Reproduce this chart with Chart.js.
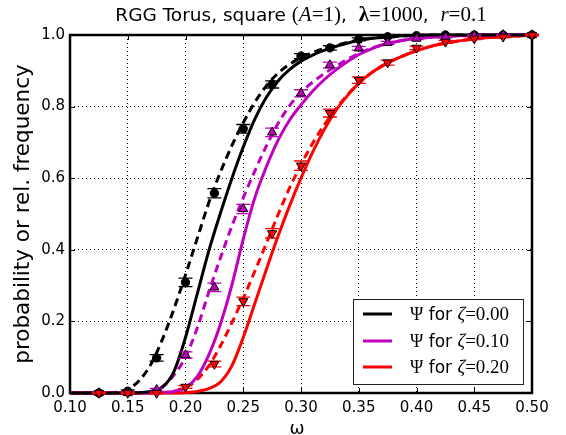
<!DOCTYPE html>
<html><head><meta charset="utf-8">
<script src="https://cdn.jsdelivr.net/npm/chart.js@4"></script>
<style>html,body{margin:0;padding:0;background:#fff;}#wrap{width:566px;height:435px;}</style>
</head><body><div id="wrap"><canvas id="c" width="566" height="435"></canvas></div>
<script>
// ---- data ----
const omega = [0.10,0.11,0.12,0.13,0.14,0.15,0.16,0.17,0.18,0.19,0.20,0.21,0.22,0.23,0.24,0.25,0.26,0.27,0.28,0.29,0.30,0.31,0.32,0.33,0.34,0.35,0.36,0.37,0.38,0.39,0.40,0.41,0.42,0.43,0.44,0.45,0.46,0.47,0.48,0.49,0.50];
const psiZeta000  = [0,0,0,0,0,0,0.001,0.004,0.016,0.06,0.155,0.275,0.395,0.50,0.598,0.687,0.765,0.826,0.871,0.903,0.927,0.944,0.957,0.968,0.977,0.985,0.99,0.993,0.996,0.998,0.999,1,1,1,1,1,1,1,1,1,1];
const dashZeta000 = [0,0,0,0,0.002,0.01,0.035,0.08,0.15,0.235,0.33,0.43,0.53,0.615,0.69,0.755,0.812,0.858,0.893,0.918,0.937,0.951,0.962,0.971,0.979,0.986,0.99,0.994,0.996,0.998,0.999,1,1,1,1,1,1,1,1,1,1];
const psiZeta010  = [0,0,0,0,0,0,0,0,0.001,0.004,0.015,0.045,0.105,0.19,0.30,0.43,0.545,0.632,0.705,0.762,0.805,0.843,0.875,0.902,0.925,0.945,0.96,0.972,0.98,0.986,0.99,0.993,0.995,0.997,0.998,0.999,1,1,1,1,1];
const dashZeta010 = [0,0,0,0,0,0,0.001,0.005,0.018,0.05,0.10,0.18,0.28,0.375,0.465,0.545,0.62,0.69,0.752,0.802,0.84,0.868,0.892,0.912,0.932,0.948,0.962,0.972,0.98,0.986,0.99,0.993,0.995,0.997,0.998,0.999,1,1,1,1,1];
const psiZeta020  = [0,0,0,0,0,0,0,0,0,0,0.001,0.004,0.012,0.03,0.075,0.155,0.25,0.345,0.437,0.522,0.60,0.672,0.735,0.788,0.83,0.865,0.892,0.913,0.93,0.944,0.956,0.966,0.974,0.98,0.985,0.989,0.992,0.994,0.996,0.998,0.999];
const dashZeta020 = [0,0,0,0,0,0,0,0,0.001,0.005,0.016,0.037,0.075,0.13,0.195,0.265,0.34,0.418,0.497,0.572,0.638,0.697,0.748,0.793,0.832,0.865,0.892,0.913,0.93,0.944,0.956,0.966,0.974,0.98,0.985,0.989,0.992,0.994,0.996,0.998,0.999];

const omegaSim = [0.125,0.15,0.175,0.20,0.225,0.25,0.275,0.30,0.325,0.35,0.375,0.40,0.425,0.45,0.475,0.50];
const freqZeta000 = [0,0.005,0.098,0.309,0.558,0.738,0.862,0.941,0.964,0.988,0.995,0.998,1,1,1,1];
const errZeta000  = [0.002,0.004,0.009,0.012,0.013,0.012,0.010,0.007,0.006,0.004,0.003,0.002,0.002,0.002,0.002,0.002];
const freqZeta010 = [0,0,0.009,0.106,0.295,0.514,0.728,0.837,0.916,0.963,0.978,0.99,0.994,0.998,1,1];
const errZeta010  = [0.002,0.002,0.004,0.009,0.012,0.013,0.012,0.010,0.008,0.005,0.004,0.003,0.002,0.002,0.002,0.002];
const freqZeta020 = [0,0,0,0.017,0.081,0.256,0.446,0.635,0.782,0.874,0.923,0.964,0.981,0.99,0.995,1];
const errZeta020  = [0.002,0.002,0.002,0.004,0.008,0.012,0.013,0.013,0.011,0.009,0.007,0.005,0.004,0.003,0.002,0.002];

const xTicks = [0.10,0.15,0.20,0.25,0.30,0.35,0.40,0.45,0.50];
const yTicks = [0.0,0.2,0.4,0.6,0.8,1.0];
const legendLabels = ['0.00','0.10','0.20'];

const BLACK = '#000000', MAGENTA = '#bf00bf', RED = '#ff0000';
const SANS = '"DejaVu Sans", sans-serif';
const SERIF = '"Liberation Serif", "DejaVu Serif", serif';

function pts(xs, ys){ return xs.map((x,i)=>({x:x, y:ys[i]})); }

function curve(ys, color, dashed, order){
  return {type:'line', data: pts(omega, ys), borderColor: color, borderWidth: 3,
    borderDash: dashed ? [8,5] : [], pointRadius: 0, cubicInterpolationMode: 'monotone',
    fill: false, order: order, clip: 4};
}
function markers(ys, errs, color, style, rot, order){
  return {type:'line', data: pts(omegaSim, ys), errors: errs, errColor: color, showLine: false,
    pointStyle: style, pointRotation: rot, pointRadius: style==='circle'?4.2:5.3,
    pointBackgroundColor: color, pointBorderColor: '#000', pointBorderWidth: 1,
    order: order, clip: false};
}

const errorBars = {
  id: 'errorBars',
  beforeDatasetDraw(chart, args){
    const ds = chart.data.datasets[args.index];
    if (!ds.errors) return;
    const xs = chart.scales.x, ys = chart.scales.y, ctx = chart.ctx;
    ctx.save();
    ctx.strokeStyle = ds.errColor; ctx.lineWidth = 1.3;
    ds.data.forEach((p,i)=>{
      const e = ds.errors[i];
      const px = xs.getPixelForValue(p.x);
      const y1 = ys.getPixelForValue(p.y - e), y2 = ys.getPixelForValue(p.y + e);
      ctx.beginPath();
      ctx.moveTo(px, y1); ctx.lineTo(px, y2);
      ctx.moveTo(px-7, y1); ctx.lineTo(px+7, y1);
      ctx.moveTo(px-7, y2); ctx.lineTo(px+7, y2);
      ctx.stroke();
    });
    ctx.restore();
  }
};

function drawSegs(ctx, segs, x, y, align){
  let total = 0;
  segs.forEach(s=>{ ctx.font = s[1]; total += ctx.measureText(s[0]).width; });
  let cx = align==='center' ? x - total/2 : x;
  ctx.textAlign = 'left';
  segs.forEach(s=>{ ctx.font = s[1]; ctx.fillText(s[0], cx, y); cx += ctx.measureText(s[0]).width; });
}

const frameAndText = {
  id: 'frameAndText',
  beforeDatasetsDraw(chart){
    const {ctx, chartArea:a, scales} = chart;
    ctx.save();
    ctx.strokeStyle = '#000'; ctx.lineWidth = 1;
    ctx.beginPath();
    xTicks.forEach(v=>{ const p = Math.round(scales.x.getPixelForValue(v))+0.5;
      ctx.moveTo(p, a.bottom); ctx.lineTo(p, a.bottom-5);
      ctx.moveTo(p, a.top); ctx.lineTo(p, a.top+5); });
    yTicks.forEach(v=>{ const p = Math.round(scales.y.getPixelForValue(v))+0.5;
      ctx.moveTo(a.left, p); ctx.lineTo(a.left+5, p);
      ctx.moveTo(a.right, p); ctx.lineTo(a.right-5, p); });
    ctx.stroke();
    ctx.lineWidth = 2.5;
    ctx.strokeRect(a.left, a.top, a.right-a.left, a.bottom-a.top);
    ctx.restore();
  },
  afterDraw(chart){
    const {ctx, chartArea:a} = chart;
    ctx.save();
    ctx.fillStyle = '#000'; ctx.textBaseline = 'alphabetic';
    const cx = (a.left + a.right)/2;
    // title
    drawSegs(ctx, [
      ['RGG Torus, square ', '18.5px '+SANS],
      ['(', '21px '+SERIF], ['A', 'italic 21px '+SERIF], ['=1)', '21px '+SERIF],
      [',  ', '18.5px '+SANS],
      ['λ', 'bold 21px '+SERIF], ['=1000', '21px '+SERIF],
      [',  ', '18.5px '+SANS],
      ['r', 'italic 21px '+SERIF], ['=0.1', '21px '+SERIF]
    ], cx, 21, 'center');
    // x label
    ctx.font = '18px '+SANS; ctx.textAlign = 'center';
    ctx.fillText('ω', 297, 434);
    // y label
    ctx.save();
    ctx.translate(29, (a.top+a.bottom)/2);
    ctx.rotate(-Math.PI/2);
    ctx.font = '21.5px '+SANS; ctx.textAlign = 'center';
    ctx.fillText('probability or rel. frequency', 0, 0);
    ctx.restore();
    // legend
    const L = 353, T = 299, W = 170, H = 85;
    ctx.fillStyle = '#fff'; ctx.fillRect(L, T, W, H);
    ctx.strokeStyle = '#222'; ctx.lineWidth = 1; ctx.strokeRect(L+0.5, T+0.5, W, H);
    const cols = [BLACK, MAGENTA, RED];
    const rows = [314, 341, 367];
    rows.forEach((ry,i)=>{
      ctx.strokeStyle = cols[i]; ctx.lineWidth = 3;
      ctx.beginPath(); ctx.moveTo(363, ry); ctx.lineTo(392, ry); ctx.stroke();
      ctx.fillStyle = '#000';
      drawSegs(ctx, [
        ['Ψ', '18px '+SERIF], [' for ', '17px '+SANS],
        ['ζ', 'italic 19px '+SERIF], ['=' + legendLabels[i], '19px '+SERIF]
      ], 410, ry+6, 'left');
    });
    ctx.restore();
  }
};

new Chart(document.getElementById('c'), {
  data: { datasets: [
    markers(freqZeta020, errZeta020, RED, 'triangle', 180, 0),
    markers(freqZeta010, errZeta010, MAGENTA, 'triangle', 0, 1),
    markers(freqZeta000, errZeta000, BLACK, 'circle', 0, 2),
    curve(psiZeta000, BLACK, false, 3),
    curve(psiZeta010, MAGENTA, false, 3),
    curve(psiZeta020, RED, false, 3),
    curve(dashZeta000, BLACK, true, 4),
    curve(dashZeta010, MAGENTA, true, 4),
    curve(dashZeta020, RED, true, 4)
  ]},
  options: {
    responsive: false, animation: false, devicePixelRatio: 1,
    layout: { padding: { left: 0, right: 34, top: 35, bottom: 0 } },
    plugins: { legend: { display: false }, tooltip: { enabled: false }, title: { display: false } },
    scales: {
      x: { type: 'linear', min: 0.1, max: 0.5,
        afterBuildTicks: s => { s.ticks = xTicks.map(v=>({value:v})); },
        afterFit: s => { s.height = 42; },
        grid: { color: '#000', lineWidth: 1, drawTicks: false },
        border: { display: false, dash: [1,3] },
        ticks: { color: '#000', font: { family: SANS, size: 15 }, padding: 6, maxRotation: 0, autoSkip: false,
          callback: v => Number(v).toFixed(2) } },
      y: { type: 'linear', min: 0, max: 1,
        afterBuildTicks: s => { s.ticks = yTicks.map(v=>({value:v})); },
        afterFit: s => { s.width = 70; },
        grid: { color: '#000', lineWidth: 1, drawTicks: false },
        border: { display: false, dash: [1,3] },
        ticks: { color: '#000', font: { family: SANS, size: 15 }, padding: 5,
          callback: v => Number(v).toFixed(1) } }
    }
  },
  plugins: [errorBars, frameAndText]
});
</script></body></html>
